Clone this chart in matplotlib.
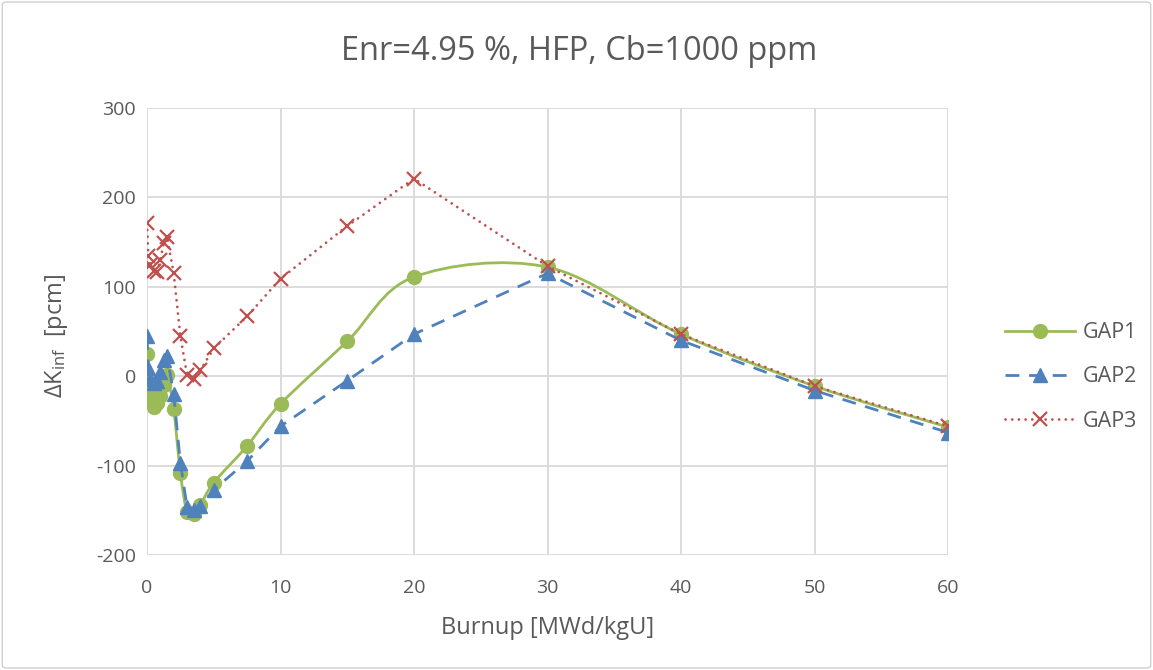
import numpy as np
import matplotlib
matplotlib.use("Agg")
import matplotlib.pyplot as plt
from matplotlib.path import Path
from matplotlib.patches import PathPatch, FancyBboxPatch
from matplotlib.lines import Line2D

burnup = [0, 0.1, 0.25, 0.5, 0.75, 1.0, 1.25, 1.5, 2.0, 2.5, 3.0, 3.5, 4.0, 5.0,
          7.5, 10, 15, 20, 30, 40, 50, 60]
gap1 = [25, -13, -28, -34, -30, -22, -10, 1, -37, -108, -152, -154, -144, -119,
        -78, -31, 39, 111, 122, 47, -11, -57]
gap2 = [45, 9, -3, -8, -5, 5, 18, 23, -20, -97, -146, -150, -145, -127,
        -95, -56, -5, 47, 115, 40, -16, -63]
gap3 = [171, 135, 124, 118, 116, 130, 149, 156, 115, 45, 1, -3, 7, 31,
        67, 109, 168, 221, 123, 47, -11, -56]

title = "Enr=4.95 %, HFP, Cb=1000 ppm"
xlabel = "Burnup [MWd/kgU]"
ylabel = r"$\Delta$K$_{\mathregular{inf}}$  [pcm]"
xticks = [0, 10, 20, 30, 40, 50, 60]
yticks = [-200, -100, 0, 100, 200, 300]

GREEN = "#9BBB59"
BLUE = "#4F81BD"
RED = "#C0504D"
TXT = "#595959"

plt.rcParams['font.family'] = ['Open Sans', 'DejaVu Sans']
plt.rcParams['mathtext.fontset'] = 'custom'
plt.rcParams['mathtext.rm'] = 'Open Sans'
plt.rcParams['mathtext.it'] = 'Open Sans'
plt.rcParams['axes.unicode_minus'] = False

fig = plt.figure(figsize=(11.53, 6.70), dpi=100)
ax = fig.add_axes([147/1153, 1-555/670, (948-147)/1153, (555-108)/670])

# chart border
fig.patches.append(FancyBboxPatch((0.002, 0.003), 0.996, 0.994,
                                  boxstyle="round,pad=0,rounding_size=0.004",
                                  transform=fig.transFigure, fill=False,
                                  edgecolor="#d0d0d0", linewidth=1.0))

ax.set_xlim(0, 60)
ax.set_ylim(-200, 300)
ax.set_xticks(xticks)
ax.set_yticks(yticks)
ax.grid(True, color="#d9d9d9", linewidth=1.3)
ax.set_axisbelow(True)
for s in ax.spines.values():
    s.set_visible(False)
ax.tick_params(length=0, labelsize=14, labelcolor=TXT)
ax.tick_params(axis="y", pad=8)
ax.tick_params(axis="x", pad=17)

# smoothed GAP1 line (Catmull-Rom as cubic Bezier, like Excel smoothing)
x = np.array(burnup, float)
y = np.array(gap1, float)
sx, sy = 801/60.0, 447/500.0
P = np.column_stack([x*sx, y*sy])
n = len(P)
verts = [tuple(P[0])]
codes = [Path.MOVETO]
for i in range(n-1):
    p0 = P[i-1] if i > 0 else P[i]
    p1 = P[i]
    p2 = P[i+1]
    p3 = P[i+2] if i+2 < n else P[i+1]
    c1 = p1 + (p2 - p0)/6.0
    c2 = p2 - (p3 - p1)/6.0
    verts += [tuple(c1), tuple(c2), tuple(p2)]
    codes += [Path.CURVE4]*3
verts = np.array(verts)
verts[:, 0] /= sx
verts[:, 1] /= sy
ax.add_patch(PathPatch(Path(verts, codes), facecolor="none", edgecolor=GREEN,
                       linewidth=2.0, zorder=3))
ax.plot(burnup, gap1, linestyle="none", marker="o", markersize=10,
        color=GREEN, zorder=4)

ax.plot(burnup, gap2, color=BLUE, linewidth=2.0, dashes=(5, 3.5),
        marker="^", markersize=10, zorder=5)
ax.plot(burnup, gap3, color=RED, linewidth=2.0, linestyle=(0, (0.01, 2.4)),
        dash_capstyle="round", marker="x", markersize=10, markeredgewidth=1.6,
        zorder=6)

fig.text(579/1153, 1-52/670, title, fontsize=23.5, color=TXT, ha="center", va="center")
fig.text(548/1153, 1-628/670, xlabel, fontsize=17, color=TXT, ha="center", va="center")
fig.text(57/1153, 1-336/670, ylabel, fontsize=17, color=TXT, ha="center", va="center",
         rotation=90)

handles = [
    Line2D([], [], color=GREEN, linewidth=2.0, marker="o", markersize=10),
    Line2D([], [], color=BLUE, linewidth=2.0, dashes=(5, 3.5), marker="^", markersize=10),
    Line2D([], [], color=RED, linewidth=2.0, linestyle=(0, (0.01, 2.4)),
           dash_capstyle="round", marker="x", markersize=10, markeredgewidth=1.6),
]
leg = fig.legend(handles, ["GAP1", "GAP2", "GAP3"], loc="center left",
                 bbox_to_anchor=(986/1153, 1-377/670), frameon=False,
                 fontsize=15.5, handlelength=3.25, labelspacing=1.09,
                 handletextpad=0.35, markerscale=1.0)
for t in leg.get_texts():
    t.set_color(TXT)

fig.savefig("out.png", dpi=100)
